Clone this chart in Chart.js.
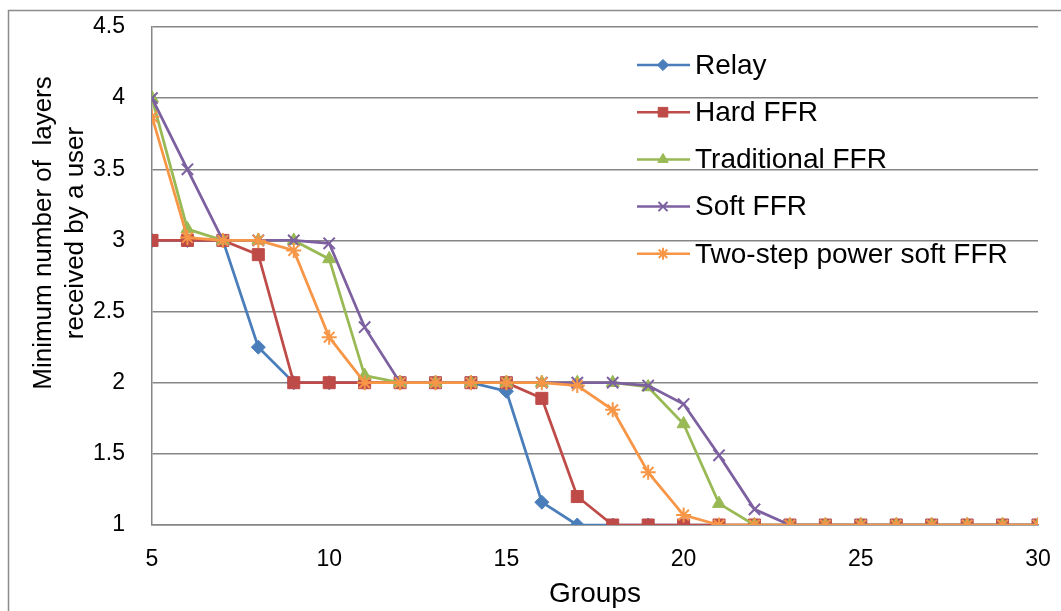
<!DOCTYPE html>
<html><head><meta charset="utf-8">
<script src="https://cdn.jsdelivr.net/npm/chart.js@4/dist/chart.umd.min.js"></script>
<style>html,body{margin:0;padding:0;background:#fff}#wrap{width:1061px;height:611px;position:relative}</style>
</head><body><div id="wrap"><canvas id="c" width="1061" height="611"></canvas></div>
<script>
// ---- data ----
const groups   = [5,6,7,8,9,10,11,12,13,14,15,16,17,18,19,20,21,22,23,24,25,26,27,28,29,30];
const relay    = [3,3,3,2.25,2,2,2,2,2,2,1.94,1.16,1,1,1,1,1,1,1,1,1,1,1,1,1,1];
const hardFFR  = [3,3,3,2.9,2,2,2,2,2,2,2,1.89,1.2,1,1,1,1,1,1,1,1,1,1,1,1,1];
const tradFFR  = [4,3.08,3,3,3,2.87,2.05,2,2,2,2,2,2,2,1.97,1.71,1.15,1,1,1,1,1,1,1,1,1];
const softFFR  = [4,3.5,3,3,3,2.98,2.39,2,2,2,2,2,2,2,1.98,1.85,1.49,1.11,1,1,1,1,1,1,1,1];
const twoStep  = [3.87,3.02,3,3,2.93,2.32,2,2,2,2,2,2,1.98,1.81,1.37,1.07,1,1,1,1,1,1,1,1,1,1];
const seriesNames = ['Relay','Hard FFR','Traditional FFR','Soft FFR','Two-step power soft FFR'];
const xTicks = [5,10,15,20,25,30];
const yTicks = [1,1.5,2,2.5,3,3.5,4,4.5];
const xTitle = 'Groups';
const yTitle = ['Minimum number of  layers','received by a user'];

// ---- styles ----
const colors = ['#4A7EBB','#BE4B48','#98B954','#7D60A0','#F79646'];
const styles = ['rectRot','rect','triangle','crossRot','star'];
const radii  = [7,8.5,7.5,8,7.5];
const seriesVals = [relay,hardFFR,tradFFR,softFFR,twoStep];
const FONT = "'Liberation Sans', Arial, sans-serif";

const datasets = seriesVals.map((vals,i)=>({
  label: seriesNames[i],
  data: groups.map((g,j)=>({x:g,y:vals[j]})),
  borderColor: colors[i],
  backgroundColor: colors[i],
  pointBackgroundColor: colors[i],
  pointBorderColor: colors[i],
  pointStyle: styles[i],
  pointRadius: radii[i],
  pointBorderWidth: (styles[i]==='crossRot'||styles[i]==='star') ? 2 : 1,
  borderWidth: 2.75,
  tension: 0,
  order: 5 - i
}));

const frame = {
  id:'frame',
  beforeDraw(chart){
    const ctx = chart.ctx;
    ctx.save();
    ctx.fillStyle = '#fff'; ctx.fillRect(0,0,chart.width,chart.height);
    ctx.strokeStyle = '#8c8c8c'; ctx.lineWidth = 1.5;
    ctx.beginPath(); ctx.moveTo(8.5, 611); ctx.lineTo(8.5, 10.5); ctx.lineTo(1061, 10.5); ctx.stroke();
    ctx.restore();
  }
};

const yTitlePlugin = {
  id:'yTitle',
  afterDraw(chart){
    const ctx = chart.ctx;
    ctx.save();
    ctx.translate(59.5, 233);
    ctx.rotate(-Math.PI/2);
    ctx.fillStyle = '#000';
    ctx.font = '26px ' + FONT;
    ctx.textAlign = 'center'; ctx.textBaseline = 'middle';
    ctx.fillText(yTitle[0], 0, -15.5);
    ctx.fillText(yTitle[1], 0, 16);
    ctx.restore();
  }
};

const legendPlugin = {
  id:'insideLegend',
  afterDraw(chart){
    const ctx = chart.ctx;
    ctx.save();
    chart.data.datasets.forEach((ds,i)=>{
      const y = 65 + i*47.2;
      ctx.strokeStyle = ds.borderColor; ctx.lineWidth = 2.5;
      ctx.beginPath(); ctx.moveTo(637,y); ctx.lineTo(690,y); ctx.stroke();
      ctx.fillStyle = ds.pointBackgroundColor; ctx.strokeStyle = ds.pointBorderColor;
      ctx.lineWidth = ds.pointBorderWidth;
      Chart.helpers.drawPoint(ctx, {pointStyle: ds.pointStyle, radius: ds.pointRadius*0.8, borderWidth: ds.pointBorderWidth, rotation: 0}, 663, y);
      ctx.fillStyle = '#000';
      ctx.font = '28px ' + FONT;
      ctx.textAlign = 'left'; ctx.textBaseline = 'middle';
      ctx.fillText(ds.label, 695, y+1);
    });
    ctx.restore();
  }
};

new Chart(document.getElementById('c'), {
  type: 'line',
  data: { datasets },
  options: {
    responsive: false,
    animation: false,
    events: [],
    layout: { padding: { top: 27, right: 23, left: 0, bottom: 0 } },
    plugins: { legend: { display: false }, tooltip: { enabled: false } },
    scales: {
      x: {
        type: 'linear', min: 5, max: 30,
        afterFit: s => { s.height = 86; s.paddingLeft = 0; s.paddingRight = 0; },
        afterBuildTicks: s => { s.ticks = xTicks.map(v=>({value:v})); },
        grid: { display: false, drawTicks: false },
        border: { display: true, color: '#868686', width: 1.5 },
        ticks: { color: '#000', font: { family: FONT, size: 23 }, padding: 21, maxRotation: 0, callback: v => String(v) },
        title: { display: true, text: xTitle, color: '#000', font: { family: FONT, size: 28 }, padding: { top: 0, bottom: 0 } }
      },
      y: {
        min: 1, max: 4.5,
        afterFit: s => { s.width = 152; s.paddingTop = 0; s.paddingBottom = 0; },
        afterBuildTicks: s => { s.ticks = yTicks.map(v=>({value:v})); },
        grid: { color: '#868686', lineWidth: 1.5, drawTicks: false },
        border: { display: true, color: '#868686', width: 1.5 },
        ticks: { color: '#000', font: { family: FONT, size: 23 }, padding: 27, callback: v => String(v) }
      }
    }
  },
  plugins: [frame, yTitlePlugin, legendPlugin]
});
</script></body></html>
